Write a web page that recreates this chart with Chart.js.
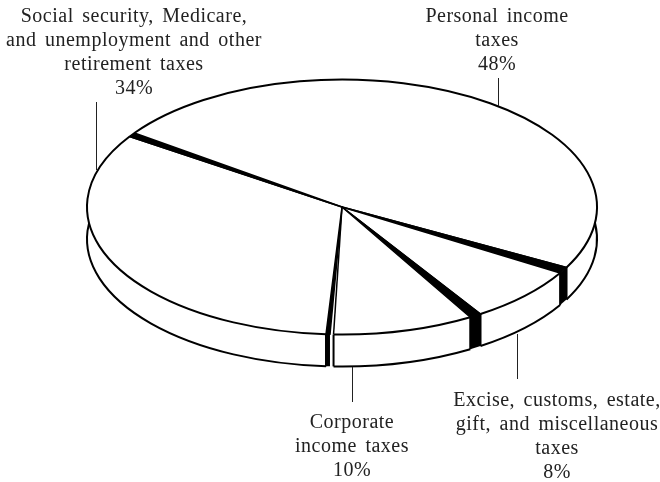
<!DOCTYPE html>
<html>
<head>
<meta charset="utf-8">
<title>Federal receipts</title>
<style>
  html, body { margin: 0; padding: 0; background: #fff; }
  canvas { display: block; }
</style>
</head>
<body>
<canvas id="pie" width="660" height="482"></canvas>
<script src="https://cdn.jsdelivr.net/npm/chart.js@4"></script>
<script>
// data
const categories = ['Personal income taxes', 'Excise, customs, estate, gift, and miscellaneous taxes', 'Corporate income taxes', 'Social security, Medicare, and unemployment and other retirement taxes'];
const shares = [48, 8, 10, 34];
const labelLines = [
    ['Personal income', 'taxes'],
    ['Excise, customs, estate,', 'gift, and miscellaneous', 'taxes'],
    ['Corporate', 'income taxes'],
    ['Social security, Medicare,', 'and unemployment and other', 'retirement taxes']
];

// layout
const squash = 0.5;      // circle -> ellipse
const depth = 32;        // height of the side band
const radius = 255;
const firstAngle = -54.5;
const labelX = [497, 557, 352, 134];
const labelY = [22, 406, 428, 22];
const leaders = [[498, 78, 106], [517, 334, 379], [352, 367, 402], [96, 102, 170]];
// black seam after each slice, degrees from the slice's end; sliceGap pulls the slice edge back
const seamFrom = [0, 0, -0.4, -1.9];
const seamTo = [2.9, 2.7, 0.5, 0];
const sliceGap = [0, 0, -1.2, -1.9];

const rad = d => d * Math.PI / 180;

function sliceAngles(chart) {
    const arcs = chart.getDatasetMeta(0).data;
    return arcs.map((arc, i) => {
        const p = arc.getProps(['x', 'y', 'startAngle', 'endAngle', 'outerRadius'], true);
        const prev = (i + arcs.length - 1) % arcs.length;
        return {
            x: p.x, y: p.y, r: p.outerRadius, end: p.endAngle,
            a1: p.startAngle + rad(i === 0 ? 0 : seamTo[prev]),
            a2: p.endAngle + rad(sliceGap[i])
        };
    });
}

function drawSides(ctx, slices) {
    const ry = s => s.r * squash;
    ctx.lineJoin = 'miter';
    slices.forEach((s, i) => {
        const from = Math.max(s.a1, 0), to = Math.min(s.a2, Math.PI);
        if (to <= from) return;
        ctx.beginPath();
        ctx.ellipse(s.x, s.y, s.r, ry(s), 0, from, to);
        ctx.ellipse(s.x, s.y + depth, s.r, ry(s), 0, to, from, true);
        ctx.closePath();
        ctx.fillStyle = '#fff';
        ctx.fill();
        // lower rim runs a little past the ends, the top face hides the rest
        ctx.beginPath();
        ctx.ellipse(s.x, s.y + depth, s.r, ry(s), 0, Math.max(s.a1, rad(-12)), Math.min(s.a2, rad(192)));
        ctx.lineWidth = 2;
        ctx.strokeStyle = '#000';
        ctx.stroke();
        [s.a1, s.a2].forEach(a => {
            if (a <= 0 || a >= Math.PI) return;
            const px = s.x + s.r * Math.cos(a), py = s.y + ry(s) * Math.sin(a);
            ctx.beginPath();
            ctx.moveTo(px, py);
            ctx.lineTo(px, py + depth);
            ctx.stroke();
        });
        const b1 = s.end + rad(seamFrom[i]), b2 = s.end + rad(seamTo[i]);
        if (b1 > 0 && b2 < Math.PI) {
            ctx.beginPath();
            ctx.moveTo(s.x + s.r * Math.cos(b1), s.y + ry(s) * Math.sin(b1));
            ctx.lineTo(s.x + s.r * Math.cos(b2), s.y + ry(s) * Math.sin(b2));
            ctx.lineTo(s.x + s.r * Math.cos(b2), s.y + ry(s) * Math.sin(b2) + depth);
            ctx.lineTo(s.x + s.r * Math.cos(b1), s.y + ry(s) * Math.sin(b1) + depth);
            ctx.closePath();
            ctx.fillStyle = '#000';
            ctx.fill();
        }
    });
}

function drawTop(ctx, slices) {
    slices.forEach((s, i) => {
        const ry = s.r * squash;
        ctx.beginPath();
        ctx.ellipse(s.x, s.y, s.r, ry, 0, s.a1, s.a2);
        ctx.lineWidth = 2;
        ctx.strokeStyle = '#000';
        ctx.stroke();

        const e = s.a2;
        ctx.beginPath();
        ctx.moveTo(s.x, s.y);
        ctx.lineTo(s.x + s.r * Math.cos(e), s.y + ry * Math.sin(e));
        ctx.lineWidth = 1.5;
        ctx.stroke();

        const b1 = s.end + rad(seamFrom[i]), b2 = s.end + rad(seamTo[i]);
        ctx.beginPath();
        ctx.moveTo(s.x, s.y);
        ctx.lineTo(s.x + s.r * Math.cos(b1), s.y + ry * Math.sin(b1));
        ctx.lineTo(s.x + s.r * Math.cos(b2), s.y + ry * Math.sin(b2));
        ctx.closePath();
        ctx.fillStyle = '#000';
        ctx.fill();
        ctx.lineWidth = 1.5;
        ctx.lineJoin = 'round';
        ctx.stroke();
    });
}

function drawLabels(ctx) {
    ctx.strokeStyle = '#222';
    ctx.lineWidth = 1;
    leaders.forEach(l => {
        ctx.beginPath();
        ctx.moveTo(l[0] + 0.5, l[1]);
        ctx.lineTo(l[0] + 0.5, l[2]);
        ctx.stroke();
    });
    ctx.font = '20px "Liberation Serif"';
    ctx.letterSpacing = '0.5px';
    ctx.wordSpacing = '3px';
    ctx.fillStyle = '#222';
    ctx.textAlign = 'center';
    ctx.textBaseline = 'alphabetic';
    labelLines.forEach((lines, i) => {
        const all = lines.concat(shares[i] + '%');
        all.forEach((t, n) => ctx.fillText(t, labelX[i], labelY[i] + n * 24));
    });
}

const piePlugin = {
    id: 'flatPie',
    beforeDatasetsDraw(chart) {
        const ctx = chart.ctx;
        const slices = sliceAngles(chart);
        drawSides(ctx, slices);
        ctx.save();
        ctx.translate(slices[0].x, slices[0].y);
        ctx.scale(1, squash);
        ctx.translate(-slices[0].x, -slices[0].y);
    },
    afterDatasetsDraw(chart) {
        const ctx = chart.ctx;
        ctx.restore();
        drawTop(ctx, sliceAngles(chart));
        drawLabels(ctx);
    }
};

new Chart(document.getElementById('pie'), {
    type: 'pie',
    data: {
        labels: categories,
        datasets: [{
            data: shares,
            backgroundColor: '#fff',
            borderWidth: 0,
            clip: false
        }]
    },
    options: {
        responsive: false,
        animation: false,
        radius: radius,
        rotation: firstAngle,
        layout: { padding: { left: 24, right: 0, top: 0, bottom: 68 } },
        plugins: { legend: { display: false }, tooltip: { enabled: false } }
    },
    plugins: [piePlugin]
});
</script>
</body>
</html>
